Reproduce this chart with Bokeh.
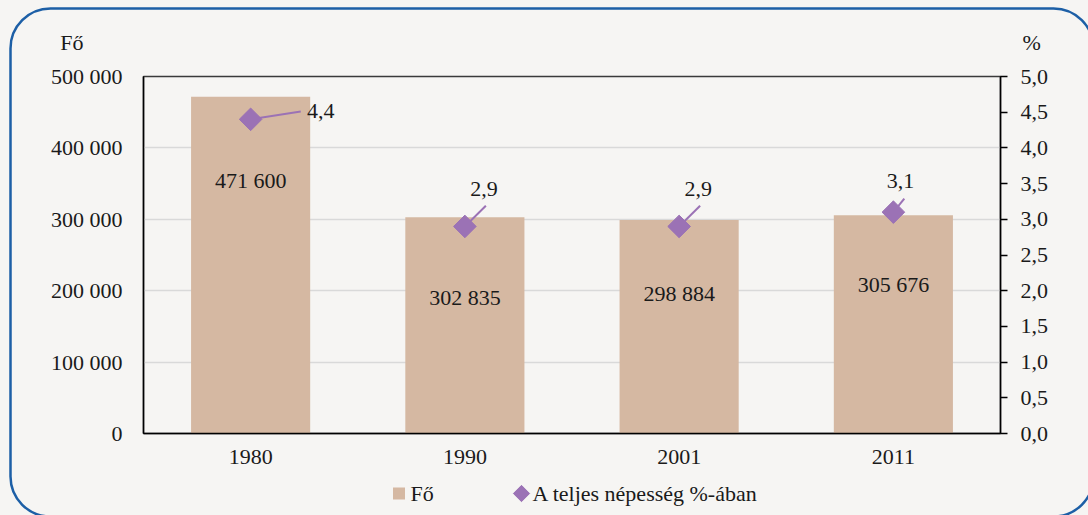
from urllib.parse import quote
from bokeh.plotting import figure
from bokeh.layouts import column
from bokeh.models import (ColumnDataSource, FactorRange, Range1d, LinearAxis, FixedTicker)
from bokeh.transform import dodge
from bokeh.core.properties import value
from bokeh.embed import file_html
from bokeh.resources import INLINE

# ---- data ----
years = ["1980", "1990", "2001", "2011"]
population = [471600, 302835, 298884, 305676]
share_pct = [4.4, 2.9, 2.9, 3.1]
pop_labels = ["471 600", "302 835", "298 884", "305 676"]
pct_labels = ["4,4", "2,9", "2,9", "3,1"]
left_ticks = [0, 100000, 200000, 300000, 400000, 500000]
left_tick_labels = ["0", "100 000", "200 000", "300 000", "400 000", "500 000"]
right_ticks = [0, 0.5, 1, 1.5, 2, 2.5, 3, 3.5, 4, 4.5, 5]
right_tick_labels = ["0,0", "0,5", "1,0", "1,5", "2,0", "2,5", "3,0", "3,5", "4,0", "4,5", "5,0"]
unit_captions = ["Fő", "%"]
legend_labels = ["Fő", "A teljes népesség %-ában"]

# ---- layout constants (label placements) ----
pop_label_frac = [0.751, 0.629, 0.656, 0.683]
pct_label_dy = [0.11, 0.53, 0.53, 0.44]
pct_label_dx = [0.327, 0.089, 0.089, 0.033]
leader_dx = [0.234, 0.098, 0.098, 0.051]
leader_dy = [0.11, 0.29, 0.29, 0.19]
legend_glyph_x = [398.5, 521]
legend_text_x = [410, 532]

FONT = "Liberation Serif"
FS = "22px"
BG = "#f6f5f3"
BAR = "#d5b8a2"
PURPLE = "#9b72b5"
TXT = "#1a1a1a"
BLUE = "#1d5fa6"

W = 1088
FL, FT, FW, FH = 143, 76, 857, 357
FR = W - FL - FW
TOP_PAD = 14
HEAD_H = FT - TOP_PAD
AXIS_H = 41
FOOT_H = 515 - FT - FH - AXIS_H
LEG_Y = 493 - (FT + FH + AXIS_H)


def bare(fig):
    fig.background_fill_alpha = 0
    fig.border_fill_alpha = 0
    fig.outline_line_color = None
    fig.grid.grid_line_color = None


def style_axis(ax):
    ax.axis_line_color = "black"
    ax.axis_line_width = 1.5
    ax.minor_tick_line_color = None
    ax.major_label_text_font = FONT
    ax.major_label_text_font_size = FS
    ax.major_label_text_color = TXT


# ---------- header: unit captions as tick labels ----------
head = figure(width=None, height=None, frame_width=FW, frame_height=HEAD_H,
              x_range=Range1d(0, 1), y_range=Range1d(HEAD_H, 0), x_axis_type=None,
              output_backend="svg", toolbar_location=None,
              min_border_left=FL, min_border_right=FR, min_border_top=0, min_border_bottom=0)
bare(head)
cap_tick = 42
hl = head.yaxis[0]
hr = LinearAxis()
head.add_layout(hr, "right")
for ax, cap, stand in [(hl, unit_captions[0], 60), (hr, unit_captions[1], 22)]:
    style_axis(ax)
    ax.ticker = FixedTicker(ticks=[cap_tick])
    ax.major_label_overrides = {cap_tick: cap}
    ax.axis_line_color = None
    ax.major_tick_line_color = None
    ax.major_tick_out = 0
    ax.major_tick_in = 0
    ax.major_label_standoff = stand

# ---------- main chart ----------
src = ColumnDataSource(dict(
    year=years, pop=population, pct=share_pct, pop_lab=pop_labels,
    pop_lab_y=[v * f for v, f in zip(population, pop_label_frac)],
))

p = figure(width=None, height=None, x_range=FactorRange(factors=years, range_padding=0),
           y_range=Range1d(0, 500000), output_backend="svg", toolbar_location=None,
           min_border_left=FL, min_border_right=FR, min_border_top=TOP_PAD,
           min_border_bottom=AXIS_H, frame_width=FW, frame_height=FH)
p.extra_y_ranges = {"pct": Range1d(0, 5)}
p.background_fill_alpha = 0
p.border_fill_alpha = 0
p.outline_line_color = "#3a3a3a"
p.outline_line_width = 1.5

p.vbar(x="year", top="pop", width=0.556, source=src, fill_color=BAR, line_color=None)

p.text(x="year", y="pop_lab_y", text="pop_lab", source=src, text_align="center",
       text_baseline="middle", text_font=value(FONT), text_font_size=FS, text_color=TXT)

for i, yr in enumerate(years):
    s = ColumnDataSource(dict(year=[yr], pct=[share_pct[i]], y1=[share_pct[i] + leader_dy[i]]))
    p.segment(x0="year", y0="pct", x1=dodge("year", leader_dx[i], range=p.x_range), y1="y1",
              source=s, y_range_name="pct", line_color=PURPLE, line_width=2)
    t = ColumnDataSource(dict(year=[yr], y=[share_pct[i] + pct_label_dy[i]], lab=[pct_labels[i]]))
    p.text(x=dodge("year", pct_label_dx[i], range=p.x_range), y="y", text="lab", source=t,
           y_range_name="pct", text_align="center", text_baseline="middle",
           text_font=value(FONT), text_font_size=FS, text_color=TXT)

p.scatter(x="year", y="pct", source=src, y_range_name="pct", marker="square",
          angle=0.785398, size=16, fill_color=PURPLE, line_color=PURPLE)

p.yaxis.ticker = FixedTicker(ticks=left_ticks)
p.yaxis.major_label_overrides = {t: l for t, l in zip(left_ticks, left_tick_labels)}
p.ygrid.ticker = FixedTicker(ticks=left_ticks)
p.ygrid.grid_line_color = "#d9d9d9"
p.ygrid.grid_line_width = 1.5
p.xgrid.grid_line_color = None

ra = LinearAxis(y_range_name="pct", ticker=FixedTicker(ticks=right_ticks),
                major_label_overrides={t: l for t, l in zip(right_ticks, right_tick_labels)})
p.add_layout(ra, "right")

for ax in [p.xaxis[0], p.yaxis[0], ra]:
    style_axis(ax)
p.yaxis[0].major_tick_line_color = None
p.yaxis[0].major_tick_out = 0
p.yaxis[0].major_label_standoff = 21
p.xaxis[0].major_tick_line_color = None
p.xaxis[0].major_tick_out = 0
p.xaxis[0].major_label_standoff = 16
ra.major_tick_in = 0
ra.major_tick_out = 7
ra.major_tick_line_width = 1.5
ra.major_tick_line_color = "black"
ra.major_label_standoff = 13

# ---------- footer: legend (glyph keys + labels, pixel coordinates) ----------
foot = figure(width=None, height=None, frame_width=FW, frame_height=FOOT_H,
              x_range=Range1d(FL, FL + FW), y_range=Range1d(FOOT_H, 0),
              x_axis_type=None, y_axis_type=None,
              output_backend="svg", toolbar_location=None,
              min_border_left=FL, min_border_right=FR, min_border_top=0, min_border_bottom=0)
bare(foot)
foot.scatter(x=[legend_glyph_x[0]], y=[LEG_Y], marker="square", size=12,
             fill_color=BAR, line_color=None)
foot.scatter(x=[legend_glyph_x[1]], y=[LEG_Y], marker="square", angle=0.785398, size=11.5,
             fill_color=PURPLE, line_color=PURPLE)
foot.text(x=legend_text_x, y=[LEG_Y] * 2, text=legend_labels, text_align="left",
          text_baseline="middle", text_font=value(FONT), text_font_size=FS, text_color=TXT)

# ---------- page frame: background + rounded blue border ----------
svg = ("<svg xmlns='http://www.w3.org/2000/svg' width='1100' height='530'>"
       "<rect x='10.5' y='8.5' width='1083' height='508' rx='40' ry='40' fill='none' "
       f"stroke='{BLUE}' stroke-width='2.5'/></svg>")
page = column(head, p, foot, spacing=0,
              styles={"background-color": BG,
                      "background-image": f"url(\"data:image/svg+xml,{quote(svg)}\")",
                      "background-repeat": "no-repeat",
                      "background-position": "0 0"})

open("out.html", "w").write(file_html(page, INLINE))
